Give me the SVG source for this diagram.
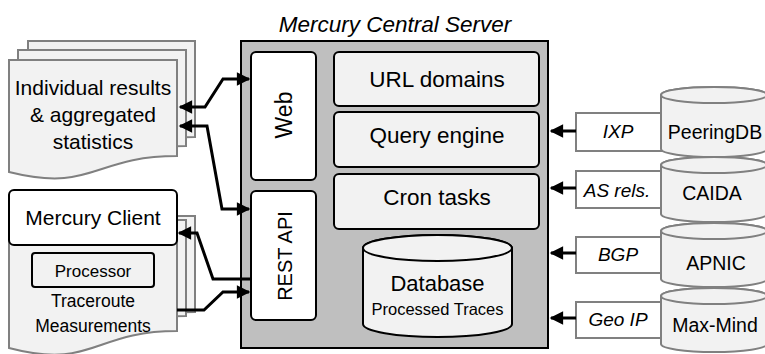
<svg xmlns="http://www.w3.org/2000/svg" width="765" height="354" viewBox="0 0 765 354">
<style>
text{font-family:"Liberation Sans",Arial,sans-serif;fill:#000}
.it{font-style:italic}
.doc{fill:#f2f2f2;stroke:#808080;stroke-width:2}
.box{stroke:#000;stroke-width:2}
.wht{fill:#fff}
.lt{fill:#f2f2f2}
.cyl{fill:#f2f2f2;stroke:#808080;stroke-width:2}
.lbl{fill:#fff;stroke:#808080;stroke-width:2}
.conn{fill:none;stroke:#000;stroke-width:3;stroke-linejoin:miter}
</style>
<defs>
<marker id="ah" viewBox="0 0 10 10" refX="9" refY="5" markerWidth="6" markerHeight="4.5" markerUnits="strokeWidth" orient="auto-start-reverse">
<path d="M0,0 L10,5 L0,10 Z" fill="#000"/>
</marker>
</defs>

<g id="results">
<path class="doc" d="M28,41 H195 V137 C111,137 111,174 28,153 Z"/>
<path class="doc" d="M18,50 H186 V146 C102,146 102,183 18,162 Z"/>
<path class="doc" d="M9,60 H177 V156 C93,156 93,193 9,172 Z"/>
<text x="93" y="95" font-size="21" text-anchor="middle">Individual results</text>
<text x="93" y="122" font-size="21" text-anchor="middle">&amp; aggregated</text>
<text x="93" y="149" font-size="21" text-anchor="middle">statistics</text>
</g>

<g id="traceroute">
<path class="doc" d="M28,216 H195 V312 C111,312 111,349 28,328 Z"/>
<path class="doc" d="M18,220 H186 V316 C102,316 102,353 18,332 Z"/>
<path class="doc" d="M9,228 H177 V331 C93,331 93,370 9,348 Z"/>
<text x="93" y="307" font-size="17.5" text-anchor="middle">Traceroute</text>
<text x="93" y="332" font-size="17.5" text-anchor="middle">Measurements</text>
</g>
<g id="processor">
<rect class="box lt" x="32" y="253" width="122" height="34" rx="3"/>
<text x="93" y="277" font-size="17" text-anchor="middle">Processor</text>
</g>
<g id="client">
<rect class="box wht" x="9" y="190" width="168" height="55" rx="5"/>
<text x="93" y="225" font-size="21" text-anchor="middle">Mercury Client</text>
</g>

<g id="server">
<text class="it" x="395" y="32" font-size="22.5" text-anchor="middle">Mercury Central Server</text>
<rect x="241" y="41" width="307" height="307" fill="#bfbfbf" stroke="#000" stroke-width="2"/>
</g>
<g id="web">
<rect class="box wht" x="251" y="52" width="65" height="128" rx="5"/>
<text transform="translate(292,115) rotate(-90)" font-size="23" text-anchor="middle">Web</text>
</g>
<g id="restapi">
<rect class="box wht" x="251" y="191" width="65" height="129" rx="5"/>
<text transform="translate(292,256) rotate(-90)" font-size="20" text-anchor="middle">REST API</text>
</g>
<g id="url">
<rect class="box lt" x="334" y="52" width="205" height="54" rx="5"/>
<text x="437" y="87" font-size="22.5" text-anchor="middle">URL domains</text>
</g>
<g id="query">
<rect class="box lt" x="334" y="112" width="205" height="55" rx="5"/>
<text x="437" y="143" font-size="22.5" text-anchor="middle">Query engine</text>
</g>
<g id="cron">
<rect class="box lt" x="334" y="174" width="205" height="55" rx="5"/>
<text x="437" y="205" font-size="22.5" text-anchor="middle">Cron tasks</text>
</g>
<g id="database">
<path class="box lt" d="M363,248 A74.5,13 0 0 1 512,248 V324 A74.5,13 0 0 1 363,324 Z"/>
<ellipse class="box lt" cx="437.5" cy="248" rx="74.5" ry="13"/>
<text x="437.5" y="291" font-size="22" text-anchor="middle">Database</text>
<text x="437.5" y="315" font-size="16.5" text-anchor="middle">Processed Traces</text>
</g>

<g id="ixp">
<rect class="lbl" x="576" y="113" width="88" height="38"/>
<text class="it" x="618" y="138" font-size="19" text-anchor="middle">IXP</text>
</g>
<g id="asrels">
<rect class="lbl" x="576" y="171" width="88" height="37"/>
<text class="it" x="617" y="197" font-size="19" text-anchor="middle">AS rels.</text>
</g>
<g id="bgp">
<rect class="lbl" x="576" y="237" width="88" height="36"/>
<text class="it" x="618" y="261" font-size="19" text-anchor="middle">BGP</text>
</g>
<g id="geoip">
<rect class="lbl" x="576" y="302" width="88" height="36"/>
<text class="it" x="618" y="326" font-size="19" text-anchor="middle">Geo IP</text>
</g>

<g id="peeringdb">
<path class="cyl" d="M661,95 A53,8 0 0 1 767,95 V149 A53,8 0 0 1 661,149 Z"/>
<ellipse class="cyl" cx="714" cy="95" rx="53" ry="8"/>
<text x="715" y="139" font-size="19.5" text-anchor="middle">PeeringDB</text>
</g>
<g id="caida">
<path class="cyl" d="M661,165 A53,8 0 0 1 767,165 V214 A53,8 0 0 1 661,214 Z"/>
<ellipse class="cyl" cx="714" cy="165" rx="53" ry="8"/>
<text x="712" y="200" font-size="19.5" text-anchor="middle">CAIDA</text>
</g>
<g id="apnic">
<path class="cyl" d="M661,231 A53,8 0 0 1 767,231 V279 A53,8 0 0 1 661,279 Z"/>
<ellipse class="cyl" cx="714" cy="231" rx="53" ry="8"/>
<text x="716" y="270" font-size="19.5" text-anchor="middle">APNIC</text>
</g>
<g id="maxmind">
<path class="cyl" d="M661,296 A53,8 0 0 1 767,296 V344 A53,8 0 0 1 661,344 Z"/>
<ellipse class="cyl" cx="714" cy="296" rx="53" ry="8"/>
<text x="715" y="332" font-size="19.5" text-anchor="middle">Max-Mind</text>
</g>

<g id="connectors">
<polyline class="conn" points="180,107 205,107 223,79 249,79" marker-start="url(#ah)" marker-end="url(#ah)"/>
<polyline class="conn" points="180,126 207,126 222,209 249,209" marker-start="url(#ah)" marker-end="url(#ah)"/>
<polyline class="conn" points="252,279 213,279 197,233 179,233" marker-end="url(#ah)"/>
<polyline class="conn" points="177,310 204,310 223,292 249,292" marker-end="url(#ah)"/>
<line class="conn" x1="576" y1="131" x2="551" y2="131" marker-end="url(#ah)"/>
<line class="conn" x1="576" y1="188" x2="551" y2="188" marker-end="url(#ah)"/>
<line class="conn" x1="576" y1="253" x2="551" y2="253" marker-end="url(#ah)"/>
<line class="conn" x1="576" y1="318" x2="551" y2="318" marker-end="url(#ah)"/>
</g>
</svg>
